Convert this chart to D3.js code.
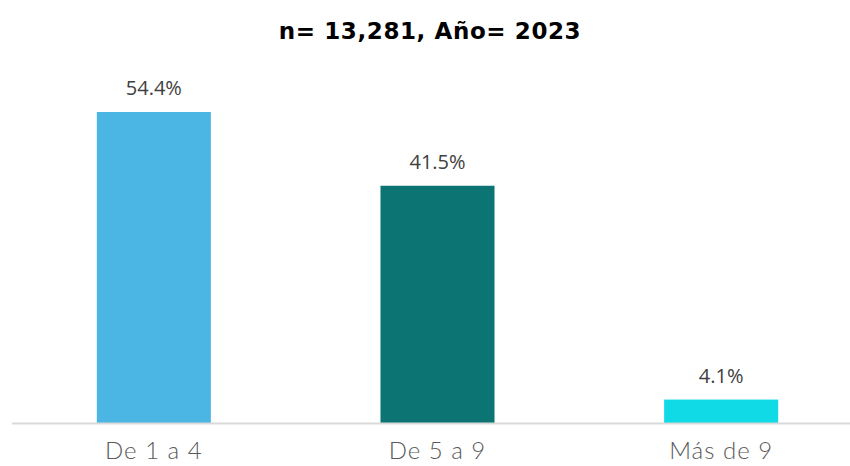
<!DOCTYPE html>
<html>
<head>
<meta charset="utf-8">
<script src="https://cdn.jsdelivr.net/npm/d3@7"></script>
<style>
  html, body { margin: 0; padding: 0; background: #fff; }
  svg { display: block; }
</style>
</head>
<body>
<div id="chart"></div>
<script>
// datos del gráfico
const categories = ['De 1 a 4', 'De 5 a 9', 'Más de 9'];
const values = [54.4, 41.5, 4.1];
const barColors = ['#4BB6E4', '#0C7473', '#0FDAE6'];
const title = 'n= 13,281, Año= 2023';

const width = 850;
const height = 466;
const baseline = 423;

const svg = d3.select('#chart')
  .append('svg')
  .attr('width', width)
  .attr('height', height);

// escalas
const x = d3.scaleBand()
  .domain(categories)
  .range([12, 863])
  .paddingInner(0.598)
  .paddingOuter(0.299);

const y = d3.scaleLinear()
  .domain([0, 54.4])
  .range([baseline, 112]);

// título
svg.append('text')
  .attr('x', 430)
  .attr('y', 39)
  .attr('text-anchor', 'middle')
  .style('font-family', '"DejaVu Sans", sans-serif')
  .style('font-size', '23px')
  .style('font-weight', 'bold')
  .style('letter-spacing', '0.6px')
  .style('fill', '#000')
  .text(title);

// barras
svg.selectAll('rect.bar')
  .data(values)
  .enter()
  .append('rect')
  .attr('class', 'bar')
  .attr('x', (d, i) => x(categories[i]))
  .attr('y', d => y(d))
  .attr('width', x.bandwidth())
  .attr('height', d => baseline - y(d))
  .attr('fill', (d, i) => barColors[i]);

// etiquetas de valor
svg.selectAll('text.value')
  .data(values)
  .enter()
  .append('text')
  .attr('class', 'value')
  .attr('x', (d, i) => x(categories[i]) + x.bandwidth() / 2)
  .attr('y', d => y(d) - 17)
  .attr('text-anchor', 'middle')
  .style('font-family', '"Open Sans", sans-serif')
  .style('font-size', '20px')
  .style('fill', '#404040')
  .text(d => d.toFixed(1) + '%');

// eje x
const xAxis = svg.append('g')
  .attr('transform', `translate(0,${baseline})`)
  .call(d3.axisBottom(x).tickSize(0).tickPadding(19));

xAxis.select('.domain')
  .attr('d', `M12,0.5H${width}`)
  .attr('stroke', '#d9d9d9')
  .attr('stroke-width', 2);

xAxis.selectAll('text')
  .style('font-family', 'Lato, sans-serif')
  .style('font-weight', '300')
  .style('font-size', '24px')
  .style('letter-spacing', '1px')
  .style('fill', '#595959');
</script>
</body>
</html>
